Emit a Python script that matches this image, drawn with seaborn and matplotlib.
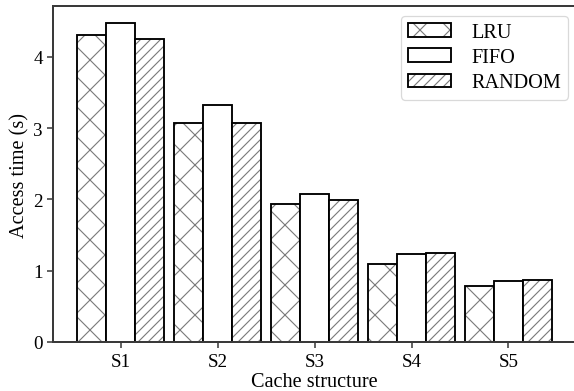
import pandas as pd
import seaborn as sns
import matplotlib.pyplot as plt
import matplotlib.colors as mcolors

# values
structures = ["S1", "S2", "S3", "S4", "S5"]
policies = ["LRU", "FIFO", "RANDOM"]
lru = [4.31, 3.08, 1.93, 1.09, 0.78]
fifo = [4.48, 3.32, 2.08, 1.23, 0.85]
rnd = [4.25, 3.08, 1.99, 1.25, 0.87]
hatches = ["xx", "", "//////"]

df = pd.DataFrame({
    "structure": structures * 3,
    "policy": [p for p in policies for _ in structures],
    "time": lru + fifo + rnd,
})

DPI = 180
plt.rcParams["font.family"] = ["Liberation Serif", "DejaVu Serif"]
plt.rcParams["hatch.linewidth"] = 0.45

fig = plt.figure(figsize=(574 / DPI, 392 / DPI), dpi=DPI)
ax = fig.add_axes([0.0932, 0.125, 0.910, 0.857])

sns.barplot(
    data=df, x="structure", y="time", hue="policy",
    order=structures, hue_order=policies,
    palette={p: "white" for p in policies},
    edgecolor="black", linewidth=0.75, width=0.9,
    legend=False, ax=ax,
)

hatch_rgba = mcolors.to_rgba("#7a7a7a")
for cont, h in zip(ax.containers, hatches):
    for bar in cont:
        bar.set_hatch(h)
        if hasattr(bar, "set_hatchcolor"):
            bar.set_hatchcolor(hatch_rgba)
        else:
            bar._hatch_color = hatch_rgba

ax.set_xlim(-0.695, 4.695)
ax.set_ylim(0, 4.715)
ax.set_yticks([0, 1, 2, 3, 4])

ax.set_xlabel("Cache structure", fontsize=8.1, labelpad=1)
ax.set_ylabel("Access time (s)", fontsize=8.1, labelpad=1.5)
ax.tick_params(labelsize=7.6, length=2.3, width=0.6, color="#333333", pad=2)
for s in ax.spines.values():
    s.set_color("#3a3a3a")
    s.set_linewidth(0.8)

leg = ax.legend(
    handles=list(ax.containers), labels=policies,
    loc="upper right", bbox_to_anchor=(1.004, 1.0),
    fontsize=8.1, frameon=True, fancybox=True,
    handlelength=2.1, handleheight=0.65, labelspacing=0.3,
    handletextpad=1.0, borderpad=0.35,
)
leg.get_frame().set_edgecolor("#d0d0d0")
leg.get_frame().set_linewidth(0.5)

fig.savefig("out.png", dpi=DPI)
